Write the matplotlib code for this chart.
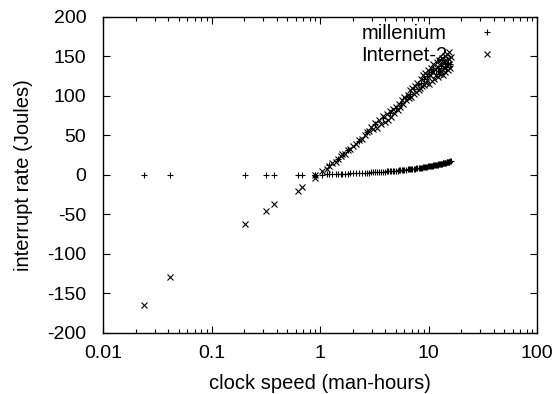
import matplotlib
matplotlib.use("Agg")
import matplotlib.pyplot as plt
from matplotlib.ticker import LogLocator, NullFormatter, FixedLocator

plt.rcParams['font.family'] = ['Liberation Sans', 'DejaVu Sans']
plt.rcParams['axes.unicode_minus'] = False

# sparse points at small clock speed (shared x)
x_low = [0.024, 0.041, 0.205, 0.316, 0.377, 0.63, 0.68, 0.89, 0.9]
mil_low = [0, 0, 0, 0, 0, 0, 0, 0, 0]
inet_low = [-165, -129, -62, -46, -37, -20, -15, -4, 0]

# dense region (shared x)
x_dense = [1.05, 1.15, 1.2, 1.3, 1.4, 1.45, 1.55, 1.6, 1.7, 1.8,
           1.9, 2.0, 2.15, 2.3, 2.45, 2.6, 2.7, 2.85, 2.95, 3.1,
           3.2, 3.35, 3.5, 3.65, 3.8, 3.95, 4.1, 4.25, 4.4, 4.55,
           4.7, 4.85, 5.0, 5.2, 5.35, 5.5, 5.7, 5.85, 6.0, 6.2,
           6.4, 6.55, 6.7, 6.9, 7.1, 7.3, 7.5, 7.7, 7.9, 8.1,
           8.3, 8.5, 8.7, 8.9, 9.1, 9.3, 9.5, 9.7, 9.9, 10.1,
           10.3, 10.5, 10.7, 10.9, 11.1, 11.3, 11.5, 11.7, 11.9, 12.1,
           12.3, 12.5, 12.7, 12.9, 13.1, 13.3, 13.5, 13.7, 13.9, 14.1,
           14.3, 14.5, 14.7, 14.9, 15.1, 15.3, 15.5, 15.6, 15.8, 16.0]
mil_dense = [0.4, 0.6, 0.8, 0.9, 1.1, 1.2, 1.4, 1.5, 1.6, 1.8,
             1.9, 2.1, 2.2, 2.4, 2.6, 2.7, 2.9, 3.0, 3.2, 3.3,
             3.5, 3.6, 3.8, 3.9, 4.1, 4.3, 4.4, 4.6, 4.7, 4.9,
             5.1, 5.2, 5.4, 5.6, 5.8, 5.9, 6.2, 6.3, 6.5, 6.7,
             6.9, 7.1, 7.2, 7.5, 7.7, 7.9, 8.1, 8.3, 8.5, 8.7,
             9.0, 9.2, 9.4, 9.6, 9.8, 10.0, 10.3, 10.5, 10.7, 10.9,
             11.1, 11.3, 11.6, 11.8, 12.0, 12.2, 12.4, 12.6, 12.9, 13.1,
             13.3, 13.5, 13.7, 13.9, 14.1, 14.4, 14.6, 14.8, 15.0, 15.2,
             15.4, 15.7, 15.9, 16.1, 16.3, 16.5, 16.7, 16.8, 17.1, 17.3]
inet_dense = [5, 8, 11, 15, 17, 20, 24, 26, 27, 32,
              33, 37, 39, 44, 46, 50, 54, 55, 61, 58,
              66, 60, 70, 64, 74, 67, 77, 70, 81, 73,
              83, 79, 86, 82, 90, 86, 95, 90, 99, 95,
              101, 98, 107, 99, 110, 102, 113, 105, 117, 108,
              110, 122, 112, 126, 114, 129, 117, 120, 133, 115,
              127, 136, 119, 130, 140, 121, 134, 126, 143, 124,
              137, 146, 128, 140, 132, 148, 127, 143, 135, 151,
              130, 145, 138, 153, 133, 147, 141, 155, 136, 149]

# millenium also falls on the upper branch for part of the range
x_mil_up = [1.2, 1.45, 1.8, 2.3, 2.7, 3.2, 3.8, 4.4, 5.0, 5.6, 6.2, 6.8, 7.4,
            8.0, 8.6, 9.1, 9.6, 10.1, 10.6, 11.1, 11.6, 12.1, 12.6, 13.1,
            13.6, 14.1, 14.6, 15.1, 15.7]
mil_up = [12, 20, 31, 43, 54, 64, 72, 78, 85, 91, 99, 103, 109, 115, 117,
          122, 125, 128, 130, 133, 128, 136, 132, 138, 135, 140, 137, 142, 140]

xs = x_low + x_dense
mil_x = xs + x_mil_up
mil_y = mil_low + mil_dense + mil_up
inet_y = inet_low + inet_dense

fig = plt.figure(figsize=(5.6, 3.94), dpi=100)
ax = fig.add_axes([0.184, 0.155, 0.775, 0.802])

ax.plot(mil_x, mil_y, linestyle='none', marker='+', markersize=5,
        markeredgewidth=0.8, color='black', label='millenium')
ax.plot(xs, inet_y, linestyle='none', marker='x', markersize=4,
        markeredgewidth=0.8, color='black', label='Internet-2')

ax.set_xscale('log')
ax.set_xlim(0.01, 100)
ax.set_ylim(-200, 200)
ax.xaxis.set_major_locator(FixedLocator([0.01, 0.1, 1, 10, 100]))
ax.set_xticklabels(['0.01', '0.1', '1', '10', '100'])
ax.xaxis.set_minor_locator(LogLocator(base=10, subs=range(2, 10)))
ax.xaxis.set_minor_formatter(NullFormatter())
ax.set_yticks(range(-200, 201, 50))

ax.tick_params(which='both', direction='in', top=True, right=True,
               labelsize=14)
ax.tick_params(axis='x', pad=9)
ax.tick_params(axis='y', pad=12)
ax.tick_params(which='major', length=5, width=0.8)
ax.tick_params(which='minor', length=3, width=0.8)
for s in ax.spines.values():
    s.set_linewidth(1.0)

ax.set_xlabel('clock speed (man-hours)', fontsize=14.5, labelpad=8)
ax.set_ylabel('interrupt rate (Joules)', fontsize=14.5, labelpad=10)

leg = ax.legend(loc='upper right', frameon=False, markerfirst=False,
                fontsize=14.5, handletextpad=1.5, borderaxespad=0.0,
                borderpad=0.2, labelspacing=0.15, handlelength=1.0,
                bbox_to_anchor=(0.918, 0.99))
for t in leg.get_texts():
    t.set_ha('right')

fig.savefig('out.png', dpi=100)
